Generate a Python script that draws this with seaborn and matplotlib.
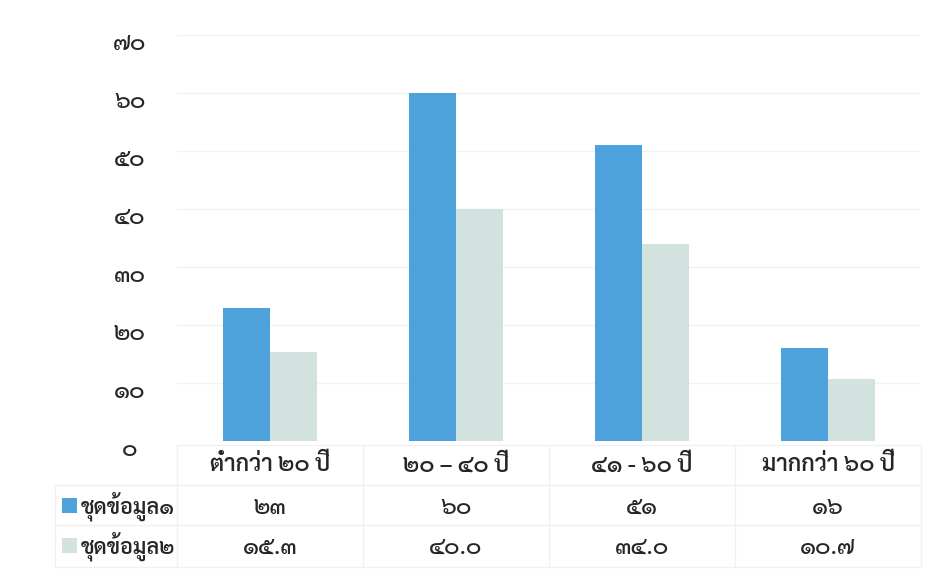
import matplotlib
matplotlib.use("Agg")
import matplotlib.pyplot as plt
import matplotlib.transforms as mtransforms
import seaborn as sns
import pandas as pd

categories = ["ต่ำกว่า ๒๐ ปี", "๒๐ – ๔๐ ปี", "๔๑ - ๖๐ ปี", "มากกว่า ๖๐ ปี"]
series_names = ["ชุดข้อมูล๑", "ชุดข้อมูล๒"]
series1 = [23, 60, 51, 16]
series2 = [15.3, 40.0, 34.0, 10.7]
table_row1 = ["๒๓", "๖๐", "๕๑", "๑๖"]
table_row2 = ["๑๕.๓", "๔๐.๐", "๓๔.๐", "๑๐.๗"]
yticks = [0, 10, 20, 30, 40, 50, 60, 70]
colors = ["#4da2dc", "#d2e2de"]

THAI_DIGITS = str.maketrans("0123456789", "๐๑๒๓๔๕๖๗๘๙")

df = pd.DataFrame({
    "category": categories * 2,
    "series": [series_names[0]] * 4 + [series_names[1]] * 4,
    "value": series1 + series2,
})

sns.set_theme(style="white")
plt.rcParams["font.family"] = ["Sarabun", "DejaVu Sans"]
plt.rcParams["font.weight"] = "semibold"

fig = plt.figure(figsize=(9.34, 5.77), dpi=100)
W, H = 934, 577
ax_left, ax_right, ax_top, ax_bottom = 177, 921, 35, 441
ax = fig.add_axes([ax_left / W, 1 - ax_bottom / H, (ax_right - ax_left) / W, (ax_bottom - ax_top) / H])

sns.barplot(data=df, x="category", y="value", hue="series", palette=colors,
            order=categories, hue_order=series_names, width=0.505, saturation=1,
            linewidth=0, ax=ax, legend=False)

text_color = "#262626"
ax.set_ylim(0, 70)
ax.set_xlim(-0.5, 3.5)
ax.set_yticks(yticks)
ax.set_yticklabels([str(v).translate(THAI_DIGITS) for v in yticks],
                   fontsize=17, color=text_color, ha="center", fontweight="medium")
ax.tick_params(axis="y", length=0, pad=34)
shift = mtransforms.ScaledTranslation(0, -6 / 100, fig.dpi_scale_trans)
for lab in ax.get_yticklabels():
    lab.set_transform(lab.get_transform() + shift)
ax.set_xticks([])
ax.set_xlabel("")
ax.set_ylabel("")
ax.yaxis.grid(True, color="#f2f2f2", linewidth=1)
ax.set_axisbelow(True)
for s in ax.spines.values():
    s.set_visible(False)

# data table below the chart
trans = mtransforms.blended_transform_factory(ax.transData, fig.transFigure)
def fy(py):
    return 1 - py / H

line_color = "#f1f1f1"
fig.add_artist(plt.Line2D([ax_left / W, ax_right / W], [fy(445), fy(445)],
                          transform=fig.transFigure, color=line_color, lw=1))
for py in (485, 525, 567):
    fig.add_artist(plt.Line2D([55 / W, ax_right / W], [fy(py), fy(py)],
                              transform=fig.transFigure, color=line_color, lw=1))
for i in range(5):
    xv = i - 0.5
    fig.add_artist(plt.Line2D([xv, xv], [fy(445), fy(567)], transform=trans,
                              color=line_color, lw=1))
fig.add_artist(plt.Line2D([55 / W, 55 / W], [fy(485), fy(567)],
                          transform=fig.transFigure, color=line_color, lw=1))

for i, cat in enumerate(categories):
    fig.text(i, fy(465), cat, transform=trans, ha="center", va="center",
             fontsize=16.5, color=text_color)
    fig.text(i, fy(508), table_row1[i], transform=trans, ha="center", va="center",
             fontsize=17, color=text_color, fontweight="medium")
    fig.text(i, fy(548), table_row2[i], transform=trans, ha="center", va="center",
             fontsize=17, color=text_color, fontweight="medium")

for name, color, py in [(series_names[0], colors[0], 506), (series_names[1], colors[1], 546)]:
    fig.add_artist(plt.Rectangle((62 / W, fy(py + 7)), 15 / W, 15 / H,
                                 transform=fig.transFigure, color=color, lw=0))
    fig.text(81 / W, fy(py), name, ha="left", va="center", fontsize=15.5, color=text_color)

fig.savefig("out.png", dpi=100, facecolor="white")
